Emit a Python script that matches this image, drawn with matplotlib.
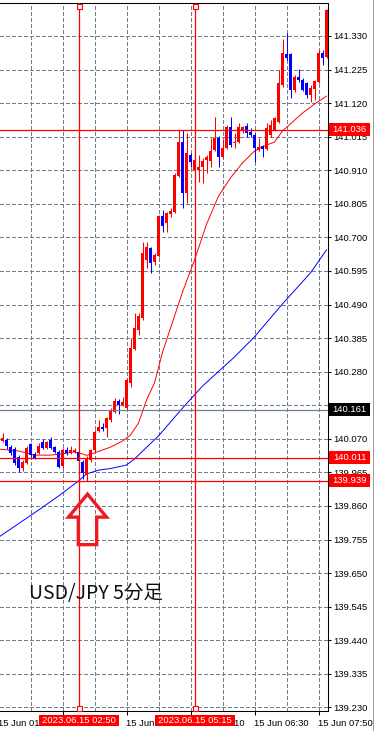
import pandas as pd
import numpy as np
import matplotlib
matplotlib.use('Agg')
import matplotlib.pyplot as plt
import matplotlib.transforms as mtransforms
from matplotlib.patches import Polygon, Rectangle
from matplotlib.lines import Line2D

plt.rcParams['font.family'] = ['Liberation Sans', 'DejaVu Sans']

# USD/JPY 5 min candles, 2023.06.15 01:15 -> 08:00
start = pd.Timestamp('2023-06-15 01:15')

opens = [140.063, 140.066, 140.044, 140.038, 140.013, 139.979, 139.994, 140.054, 140.023, 140.026,
         140.060, 140.041, 140.066, 140.044, 140.029, 139.985, 140.035, 140.026, 140.029, 140.029,
         139.998, 139.957, 140.004, 140.035, 140.094, 140.107, 140.104, 140.129, 140.154, 140.188,
         140.176, 140.166, 140.245, 140.351, 140.410, 140.448, 140.629, 140.667, 140.623, 140.642,
         140.767, 140.745, 140.773, 140.780, 140.892, 140.998, 140.839, 140.958, 140.911, 140.911,
         140.920, 140.942, 140.939, 140.973, 141.011, 140.952, 140.980, 141.045, 140.995, 140.998,
         141.036, 141.049, 141.030, 141.020, 140.973, 140.986, 140.977, 141.020, 141.036, 141.061,
         141.177, 141.274, 141.274, 141.161, 141.202, 141.192, 141.183, 141.145, 141.164, 141.186,
         141.277, 141.264]
closes = [140.073, 140.048, 140.026, 139.994, 139.979, 139.998, 140.041, 140.019, 140.010, 140.048,
          140.041, 140.060, 140.041, 140.029, 139.982, 140.035, 140.026, 140.035, 140.035, 140.001,
          139.963, 140.010, 140.035, 140.091, 140.107, 140.101, 140.135, 140.160, 140.188, 140.176,
          140.185, 140.254, 140.354, 140.417, 140.454, 140.651, 140.670, 140.620, 140.645, 140.767,
          140.736, 140.776, 140.783, 140.895, 140.998, 140.839, 140.964, 140.936, 140.942, 140.920,
          140.939, 140.952, 140.970, 141.011, 140.952, 140.980, 141.045, 140.989, 140.998, 141.045,
          141.045, 141.027, 141.020, 140.980, 140.983, 140.977, 141.042, 141.052, 141.074, 141.183,
          141.277, 141.261, 141.161, 141.202, 141.192, 141.161, 141.145, 141.167, 141.189, 141.277,
          141.261, 141.411]
highs = [140.088, 140.073, 140.051, 140.044, 140.019, 140.004, 140.048, 140.057, 140.029, 140.057,
         140.069, 140.063, 140.076, 140.048, 140.035, 140.041, 140.044, 140.048, 140.041, 140.035,
         140.004, 140.016, 140.038, 140.098, 140.129, 140.120, 140.138, 140.166, 140.198, 140.195,
         140.201, 140.260, 140.385, 140.464, 140.464, 140.686, 140.686, 140.670, 140.651, 140.770,
         140.786, 140.780, 140.792, 140.902, 141.036, 141.036, 141.027, 140.964, 140.967, 140.958,
         140.948, 140.958, 141.011, 141.077, 141.017, 141.005, 141.052, 141.077, 141.027, 141.058,
         141.049, 141.058, 141.042, 141.027, 141.011, 140.989, 141.058, 141.067, 141.077, 141.224,
         141.321, 141.339, 141.277, 141.208, 141.227, 141.199, 141.186, 141.177, 141.192, 141.286,
         141.286, 141.414]
lows = [140.060, 140.038, 140.019, 139.988, 139.966, 139.969, 139.991, 140.013, 140.007, 140.023,
        140.038, 140.038, 140.038, 140.026, 139.979, 139.979, 140.019, 140.023, 140.026, 139.994,
        139.944, 139.939, 139.998, 140.029, 140.091, 140.094, 140.076, 140.123, 140.151, 140.148,
        140.173, 140.160, 140.232, 140.348, 140.395, 140.442, 140.604, 140.589, 140.614, 140.639,
        140.717, 140.717, 140.764, 140.776, 140.889, 140.792, 140.808, 140.920, 140.864, 140.873,
        140.870, 140.902, 140.920, 140.970, 140.920, 140.948, 140.977, 140.983, 140.980, 140.995,
        141.027, 141.014, 141.014, 140.936, 140.970, 140.952, 140.973, 141.014, 141.033, 141.058,
        141.170, 141.255, 141.136, 141.155, 141.186, 141.158, 141.136, 141.124, 141.130, 141.183,
        141.239, 141.261]

# moving averages (bar index, price)
ma_fast_bar = [-1, 4, 8, 12, 15, 18, 20, 21, 23, 27, 30, 32, 34, 36, 38, 40, 42, 45, 48, 51,
               54, 57, 60, 63, 66, 68, 70, 72, 75, 78, 81]
ma_fast = [140.038, 140.032, 140.019, 140.019, 140.023, 140.029, 140.023, 140.018, 140.026, 140.044,
           140.063, 140.082, 140.119, 140.191, 140.245, 140.341, 140.416, 140.529, 140.629, 140.741,
           140.829, 140.886, 140.933, 140.970, 140.989, 140.998, 141.033, 141.055, 141.089, 141.117,
           141.142]
ma_slow_bar = [-1, 9, 14, 19, 21, 24, 27, 31, 33, 39, 45, 50, 58, 63, 70, 77, 81]
ma_slow = [139.762, 139.847, 139.891, 139.938, 139.960, 139.972, 139.977, 139.988, 140.007, 140.079,
           140.166, 140.235, 140.326, 140.389, 140.492, 140.589, 140.661]

price_ticks = [139.230, 139.335, 139.440, 139.545, 139.650, 139.755, 139.860, 139.965, 140.070,
               140.175, 140.280, 140.385, 140.490, 140.595, 140.700, 140.805, 140.910, 141.015,
               141.120, 141.225, 141.330]
time_ticks = ['2023-06-15 01:10', '2023-06-15 02:30', '2023-06-15 03:50',
              '2023-06-15 05:10', '2023-06-15 06:30', '2023-06-15 07:50']
grid_times = ['2023-06-15 01:50', '2023-06-15 03:10', '2023-06-15 04:30',
              '2023-06-15 05:50', '2023-06-15 07:10']

vlines_at = ['2023-06-15 02:50', '2023-06-15 05:15']
red_levels = [141.036, 140.011, 139.939]
gray_levels = [140.161]


def bar_of(t):
    return (pd.Timestamp(t) - start) / pd.Timedelta(minutes=5)


n = len(opens)
x = np.arange(n)
o = np.array(opens); c = np.array(closes)
h = np.array(highs); l = np.array(lows)
up = c >= o
cols = np.where(up, '#ff0000', '#0000ff')

fig = plt.figure(figsize=(3.74, 7.31), dpi=100)
ax = fig.add_axes([0, 20/731, 328/374, 708/731])
ax.set_xlim(-0.625, n - 0.625)
ax.set_ylim(139.2186, 141.4332)

grid_c = '#6f7f8f'
ax.set_yticks(price_ticks)
ax.set_yticklabels([f'{v:.3f}' for v in price_ticks])
ax.yaxis.tick_right()
ax.tick_params(axis='y', direction='out', length=2.2, width=0.75, pad=1.4,
               labelsize=6.8, colors='black')
tick_bars = [bar_of(t) for t in time_ticks]
ax.set_xticks([b for b in tick_bars if b > -0.625])
ax.set_xticklabels([])
ax.set_xticks([bar_of(t) for t in grid_times], minor=True)
ax.tick_params(axis='x', direction='out', length=3, width=0.75)
ax.tick_params(axis='x', which='minor', length=0)

# grid
for b in tick_bars + [bar_of(t) for t in grid_times]:
    ax.axvline(b, color=grid_c, lw=0.72, ls=(0, (4, 2.5)), zorder=0.5, antialiased=False)
for p in price_ticks:
    ax.axhline(p, color=grid_c, lw=0.72, ls=(0, (4, 2.5)), zorder=0.5, antialiased=False)

for s in ['top', 'right', 'bottom']:
    ax.spines[s].set_linewidth(0.75)
    ax.spines[s].set_color('black')
ax.spines['left'].set_visible(False)

# time labels
lab_tr = mtransforms.blended_transform_factory(ax.transData, ax.transAxes)
for b, t in zip(tick_bars, time_ticks):
    ax.text(b, -8/708, pd.Timestamp(t).strftime('15 Jun %H:%M'), transform=lab_tr,
            ha='left', va='top', fontsize=6.8, color='black', clip_on=False)

# moving averages
ax.plot(ma_slow_bar, ma_slow, color='#0000ff', lw=0.7, zorder=2)
ax.plot(ma_fast_bar, ma_fast, color='#ff0000', lw=0.7, zorder=2)

# candles
ax.vlines(x, l, h, colors=cols, lw=0.75, zorder=3)
ax.bar(x, np.maximum(np.abs(c - o), 0.0035), bottom=np.minimum(o, c), width=0.7,
       color=cols, linewidth=0, zorder=3)

# horizontal / vertical lines
for p in red_levels:
    ax.axhline(p, color='#ff0000', lw=0.9, zorder=4)
for p in gray_levels:
    ax.axhline(p, color=grid_c, lw=0.9, zorder=4)
for t in vlines_at:
    b = bar_of(t)
    ax.axvline(b, color='#ff0000', lw=0.9, zorder=4)
    ax.plot([b, b], [1 - 2.7/708, 2.7/708], transform=lab_tr, ls='none', marker='s',
            ms=3.6, mfc='white', mec='#ff0000', mew=0.8, zorder=5, clip_on=False)
    # time box on axis
    ax.add_patch(Rectangle((b - 10, -15/708), 20, 11.5/708, transform=lab_tr,
                           fc='#ff0000', ec='none', clip_on=False, zorder=6))
    ax.text(b, -9.5/708, pd.Timestamp(t).strftime('%Y.%m.%d %H:%M'), transform=lab_tr,
            ha='center', va='center', fontsize=6.8, color='white', clip_on=False, zorder=7)

# price boxes on the right
pr_tr = mtransforms.blended_transform_factory(ax.transAxes, ax.transData)
box_h = 13 * (141.4332 - 139.2186) / 708
for p, fc in [(v, '#ff0000') for v in red_levels] + [(v, 'black') for v in gray_levels]:
    ax.add_patch(Rectangle((1 + 1/328, p - box_h/2), 41/328, box_h, transform=pr_tr,
                           fc=fc, ec='none', clip_on=False, zorder=6))
    ax.text(1 + 21.5/328, p, f'{p:.3f}', transform=pr_tr, ha='center', va='center',
            fontsize=6.8, color='white', clip_on=False, zorder=7)

# arrow pointing at the low
lo_bar = int(np.argmin(l)) + 0.25
lo = l.min()
arrow = [(lo_bar, lo - 0.042), (lo_bar + 4.75, lo - 0.114), (lo_bar + 2.3, lo - 0.114),
         (lo_bar + 2.3, lo - 0.200), (lo_bar - 2.3, lo - 0.200), (lo_bar - 2.3, lo - 0.114),
         (lo_bar - 4.75, lo - 0.114)]
ax.add_patch(Polygon(arrow, closed=True, fill=False, ec='#ed1c24', lw=2.4,
                     joinstyle='miter', zorder=5))

ax.text(29.3/328, (711 - 598.5)/708, 'USD/JPY 5分足', transform=ax.transAxes,
        ha='left', va='baseline', fontsize=14, color='#111111',
        family=['Noto Sans CJK JP', 'DejaVu Sans'], zorder=5)

fig.add_artist(Line2D([372.5/374, 372.5/374], [0, 1], transform=fig.transFigure,
                      color='#a0a0a0', lw=0.75))

fig.savefig('out.png', dpi=100)
